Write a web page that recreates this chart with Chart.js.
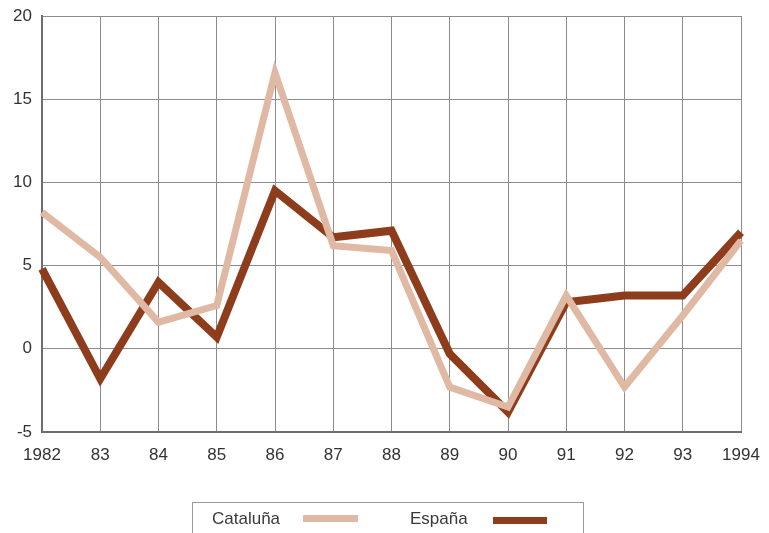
<!DOCTYPE html>
<html>
<head>
<meta charset="utf-8">
<script src="https://cdn.jsdelivr.net/npm/chart.js@4"></script>
<style>
  html, body { margin: 0; padding: 0; background: #fff; }
  .wrap { position: relative; width: 769px; height: 533px; }
  #chart { position: absolute; left: 0; top: 0; }
  .legend {
    position: absolute; left: 192px; top: 502px; width: 392px; height: 40px;
    border: 1px solid #9a9a9a; box-sizing: border-box;
    font-family: "Liberation Sans", Arial, sans-serif; font-size: 17px; color: #3a3a3a;
  }
  .legend span { position: absolute; top: 6px; }
  .legend i { position: absolute; height: 7px; }
</style>
</head>
<body>
<div class="wrap">
  <canvas id="chart" width="769" height="533"></canvas>
  <div class="legend">
    <span style="left:19px">Cataluña</span><i style="left:110px;top:12px;width:55px;background:#dfb9a3"></i>
    <span style="left:217px">España</span><i style="left:300px;top:14px;width:54px;background:#8e3d1c"></i>
  </div>
</div>
<script>
const years = ['1982', '83', '84', '85', '86', '87', '88', '89', '90', '91', '92', '93', '1994'];
const cataluna = [8.2, 5.5, 1.6, 2.6, 16.6, 6.2, 5.9, -2.3, -3.5, 3.2, -2.3, 2.0, 6.5];
const espana = [4.8, -1.8, 4.0, 0.7, 9.5, 6.7, 7.1, -0.3, -3.8, 2.8, 3.2, 3.2, 7.0];
const yTicks = [-5, 0, 5, 10, 15, 20];

const font = { family: '"Liberation Sans", Arial, sans-serif', size: 17 };

new Chart(document.getElementById('chart'), {
  type: 'line',
  data: {
    labels: years,
    datasets: [
      {
        label: 'Cataluña',
        data: cataluna,
        borderColor: '#dfb9a3',
        borderWidth: 7,
        pointRadius: 0,
        tension: 0,
        fill: false
      },
      {
        label: 'España',
        data: espana,
        borderColor: '#8e3d1c',
        borderWidth: 8,
        pointRadius: 0,
        tension: 0,
        fill: false
      }
    ]
  },
  options: {
    responsive: false,
    animation: false,
    layout: { padding: { top: 16, right: 28, left: 0, bottom: 0 } },
    plugins: { legend: { display: false }, tooltip: { enabled: false } },
    scales: {
      x: {
        offset: false,
        grid: { color: '#8c8c8c', lineWidth: 1, drawTicks: false },
        border: { color: '#6e6e6e', width: 2 },
        ticks: { color: '#333', font: font, padding: 13, maxRotation: 0, autoSkip: false },
        afterFit: (scale) => {
          scale.height = 101;
          scale.paddingLeft = 0;
          scale.paddingRight = 0;
        }
      },
      y: {
        min: -5,
        max: 20,
        afterBuildTicks: (scale) => { scale.ticks = yTicks.map(v => ({ value: v })); },
        grid: { color: '#8c8c8c', lineWidth: 1, drawTicks: false },
        border: { color: '#6e6e6e', width: 2 },
        ticks: { color: '#333', font: font, padding: 10 },
        afterFit: (scale) => {
          scale.width = 42;
          scale.paddingTop = 0;
          scale.paddingBottom = 0;
        }
      }
    }
  }
});
</script>
</body>
</html>
